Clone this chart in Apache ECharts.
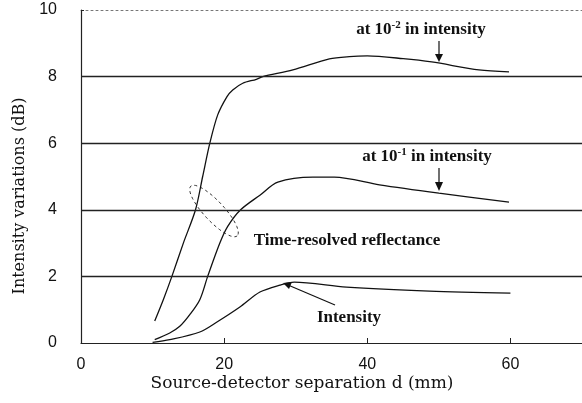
<!DOCTYPE html>
<html>
<head>
<meta charset="utf-8">
<script src="https://cdn.jsdelivr.net/npm/echarts@6/dist/echarts.min.js"></script>
<style>
  html, body { margin: 0; padding: 0; background: #fff; }
  #chart { width: 582px; height: 403px; }
</style>
</head>
<body>
<div id="chart"></div>
<script>
// 曲线数据
const tr2Points = [
  [10.3, 0.66], [11.5, 1.3], [12.7, 2.0], [14.3, 3.0], [16.0, 4.0], [17.0, 5.0],
  [18.0, 6.0], [19.1, 6.85], [20.4, 7.4], [21.2, 7.6], [22.6, 7.8], [24.5, 7.92],
  [25.4, 8.0], [29.6, 8.2], [34.7, 8.53], [37.5, 8.6], [40.0, 8.62], [45.0, 8.54],
  [49.0, 8.44], [55.6, 8.2], [59.8, 8.14]
]
const tr1Points = [
  [10.3, 0.1], [12.4, 0.3], [13.8, 0.5], [15.2, 0.85], [16.6, 1.3], [17.7, 2.0],
  [19.4, 3.0], [20.5, 3.5], [22.3, 4.0], [25.0, 4.44], [27.5, 4.83], [32.4, 4.98],
  [35.4, 4.98], [41.7, 4.75], [50.0, 4.5], [59.8, 4.23]
]
const intensityPoints = [
  [10.0, 0.02], [12.4, 0.1], [16.6, 0.33], [19.0, 0.63], [22.2, 1.08], [25.0, 1.53],
  [27.8, 1.74], [29.8, 1.83], [37.1, 1.68], [48.7, 1.56], [60.0, 1.5]
]
const gridValues = [2, 4, 6, 8]
const xTicks = [0, 20, 40, 60]

const chart = echarts.init(document.getElementById('chart'))

const serif = '"Liberation Serif", "Times New Roman", serif'
const titleSerif = '"DejaVu Serif", serif'
const sans = '"Liberation Sans", Arial, sans-serif'

const lineSeries = (name, data) => ({
  name,
  type: 'line',
  data,
  smooth: 0.3,
  showSymbol: false,
  symbol: 'none',
  lineStyle: { color: '#111', width: 1.3 },
  animation: false
})

const annoText = (x, y, rich, text) => ({
  type: 'text',
  x, y,
  style: {
    text,
    font: 'bold 17px ' + serif,
    fill: '#111',
    align: 'center',
    verticalAlign: 'middle',
    rich
  }
})

const supRich = {
  b: { fontFamily: serif, fontSize: 17, fontWeight: 'bold', color: '#111' },
  s: { fontFamily: serif, fontSize: 11, fontWeight: 'bold', color: '#111', verticalAlign: 'top', padding: [0, 0, 9, 0] }
}

// 虚线椭圆
const ellipsePts = []
for (let i = 0; i <= 48; i++) {
  const t = i / 48 * Math.PI * 2
  const a = 34, b = 10, rot = 47 * Math.PI / 180
  const ex = a * Math.cos(t), ey = b * Math.sin(t)
  ellipsePts.push([214 + ex * Math.cos(rot) - ey * Math.sin(rot), 211 + ex * Math.sin(rot) + ey * Math.cos(rot)])
}

const option = {
  backgroundColor: '#fff',
  animation: false,
  grid: { left: 81, right: 0, top: 10, bottom: 60 },
  xAxis: [{
    type: 'value',
    min: 0,
    max: 70,
    interval: 20,
    axisLine: { lineStyle: { color: '#222', width: 1.2 } },
    axisTick: { inside: true, length: 5, lineStyle: { color: '#222' } },
    axisLabel: {
      fontFamily: sans, fontSize: 16, color: '#111', margin: 14,
      showMaxLabel: false,
      formatter: v => xTicks.includes(v) ? String(v) : ''
    },
    splitLine: { show: false }
  }, {
    type: 'value',
    position: 'top',
    min: 0,
    max: 70,
    axisLine: { show: true, lineStyle: { color: '#777', width: 1, type: [2, 3] } },
    axisTick: { show: false },
    axisLabel: { show: false },
    splitLine: { show: false }
  }],
  yAxis: {
    type: 'value',
    min: 0,
    max: 10,
    interval: 2,
    axisLine: { show: true, lineStyle: { color: '#222', width: 1.2 } },
    axisTick: { inside: true, length: 3, lineStyle: { color: '#222' } },
    axisLabel: { fontFamily: sans, fontSize: 16, color: '#111', margin: 24 },
    splitLine: { show: false }
  },
  series: [
    Object.assign(lineSeries('10^-2', tr2Points), {
      markLine: {
        silent: true,
        symbol: 'none',
        label: { show: false },
        lineStyle: { color: '#222', width: 1.3, type: 'solid' },
        data: gridValues.map(v => ({ yAxis: v }))
      }
    }),
    lineSeries('10^-1', tr1Points),
    lineSeries('Intensity', intensityPoints)
  ],
  graphic: [
    {
      type: 'text',
      x: 20, y: 196,
      rotation: Math.PI / 2,
      style: {
        text: 'Intensity variations (dB)',
        font: '16px ' + titleSerif,
        fill: '#111',
        align: 'center',
        verticalAlign: 'middle'
      }
    },
    {
      type: 'text',
      x: 302, y: 384,
      style: {
        text: 'Source-detector separation d (mm)',
        font: '17px ' + titleSerif,
        fill: '#111',
        align: 'center',
        verticalAlign: 'middle'
      }
    },
    annoText(421, 30, supRich, '{b|at 10}{s|-2}{b| in intensity}'),
    annoText(427, 157, supRich, '{b|at 10}{s|-1}{b| in intensity}'),
    annoText(347, 241, null, 'Time-resolved reflectance'),
    annoText(349, 318, null, 'Intensity'),
    // 箭头
    { type: 'line', shape: { x1: 439, y1: 41, x2: 439, y2: 58 }, style: { stroke: '#111', lineWidth: 1.2 } },
    { type: 'polygon', shape: { points: [[435, 54], [443, 54], [439, 62]] }, style: { fill: '#111' } },
    { type: 'line', shape: { x1: 439, y1: 168, x2: 439, y2: 186 }, style: { stroke: '#111', lineWidth: 1.2 } },
    { type: 'polygon', shape: { points: [[435, 182], [443, 182], [439, 191]] }, style: { fill: '#111' } },
    { type: 'line', shape: { x1: 335, y1: 305, x2: 288, y2: 285 }, style: { stroke: '#111', lineWidth: 1.2 } },
    { type: 'polygon', shape: { points: [[283, 283], [292, 282], [289, 289]] }, style: { fill: '#111' } },
    { type: 'polyline', shape: { points: ellipsePts }, style: { stroke: '#333', lineWidth: 1, lineDash: [3, 3], fill: null } }
  ]
}

chart.setOption(option)
</script>
</body>
</html>
